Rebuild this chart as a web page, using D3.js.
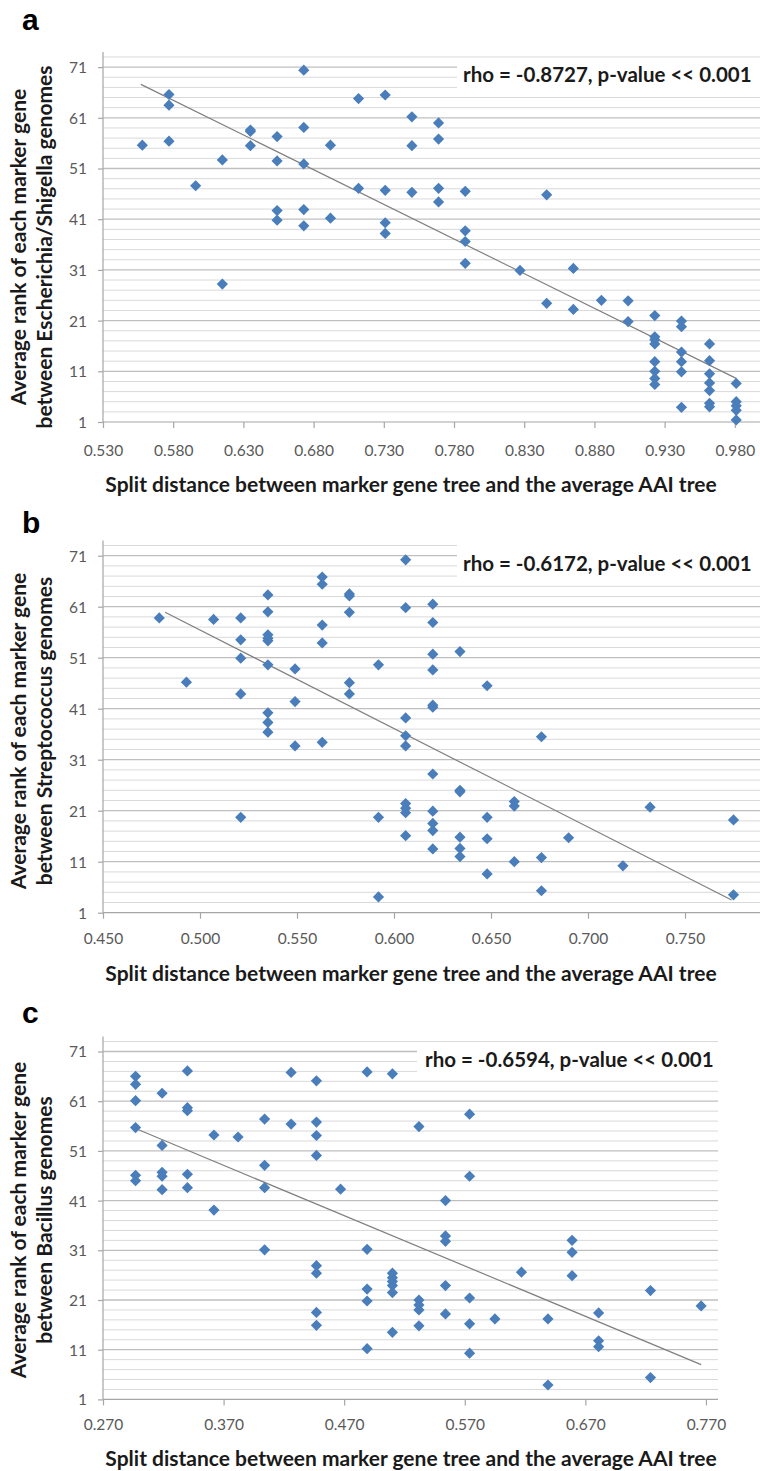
<!DOCTYPE html>
<html><head><meta charset="utf-8">
<script src="https://cdn.jsdelivr.net/npm/d3@7"></script>
<style>body{margin:0;background:#fff}svg{display:block}</style>
</head><body>
<svg id="chart" width="760" height="1471"></svg>
<script>
// ---------- data ----------
const yTickValues = [1, 11, 21, 31, 41, 51, 61, 71];
const aXTicks = [0.53, 0.58, 0.63, 0.68, 0.73, 0.78, 0.83, 0.88, 0.93, 0.98];
const bXTicks = [0.45, 0.50, 0.55, 0.60, 0.65, 0.70, 0.75];
const cXTicks = [0.27, 0.37, 0.47, 0.57, 0.67, 0.77];

const aX = [0.558,
  0.577,0.577,0.577,
  0.596,
  0.615,0.615,
  0.635,0.635,0.635,
  0.654,0.654,0.654,0.654,
  0.673,0.673,0.673,0.673,0.673,
  0.692,0.692,
  0.712,0.712,
  0.731,0.731,0.731,0.731,
  0.750,0.750,0.750,
  0.769,0.769,0.769,0.769,
  0.788,0.788,0.788,0.788,
  0.827,
  0.846,0.846,
  0.865,0.865,
  0.885,
  0.904,0.904,
  0.923,0.923,0.923,0.923,0.923,0.923,0.923,0.923,
  0.942,0.942,0.942,0.942,0.942,0.942,
  0.962,0.962,0.962,0.962,0.962,0.962,0.962,
  0.981,0.981,0.981,0.981,0.981];
const aY = [55.6,
  65.6,63.5,56.4,
  47.6,
  52.7,28.2,
  58.6,58.3,55.5,
  57.3,52.5,42.7,40.8,
  70.4,59.1,51.9,42.9,39.7,
  55.6,41.2,
  64.8,47.1,
  65.5,46.7,40.3,38.2,
  61.2,55.5,46.3,
  60.0,56.8,47.1,44.4,
  46.5,38.7,36.6,32.3,
  30.9,
  45.8,24.4,
  31.3,23.2,
  25.0,
  24.9,20.8,
  22.0,17.8,17.2,16.4,12.9,11.0,9.6,8.4,
  20.9,19.8,14.8,12.9,10.9,3.9,
  16.4,13.1,10.5,8.7,7.2,4.7,4.0,
  8.6,5.0,4.2,3.3,1.4];
const aTrendX = [0.557, 0.981];
const aTrendY = [67.6, 9.6];

const bX = [0.479,
  0.493,
  0.507,
  0.521,0.521,0.521,0.521,0.521,
  0.535,0.535,0.535,0.535,0.535,0.535,0.535,0.535,0.535,
  0.549,0.549,0.549,
  0.563,0.563,0.563,0.563,0.563,
  0.577,0.577,0.577,0.577,0.577,
  0.592,0.592,0.592,
  0.606,0.606,0.606,0.606,0.606,0.606,0.606,0.606,0.606,
  0.620,0.620,0.620,0.620,0.620,0.620,0.620,0.620,0.620,0.620,0.620,
  0.634,0.634,0.634,0.634,0.634,0.634,
  0.648,0.648,0.648,0.648,
  0.662,0.662,0.662,
  0.676,0.676,0.676,
  0.690,
  0.718,
  0.732,
  0.775,0.775];
const bY = [58.8,
  46.2,
  58.5,
  58.8,54.5,50.9,43.9,19.7,
  63.3,60.0,55.5,54.8,54.3,49.6,40.2,38.3,36.4,
  48.8,42.4,33.7,
  66.8,65.4,57.4,53.9,34.4,
  63.5,63.1,59.9,46.1,43.9,
  49.6,19.7,4.1,
  70.2,60.8,39.2,35.7,33.7,22.4,21.5,20.6,16.1,
  61.5,57.9,51.7,48.6,41.7,41.3,28.2,20.9,18.5,17.1,13.5,
  52.2,25.0,24.7,15.8,13.6,12.0,
  45.5,19.7,15.5,8.6,
  22.8,21.9,11.0,
  35.5,11.8,5.3,
  15.7,
  10.2,
  21.7,
  19.2,4.5];
const bTrendX = [0.482, 0.774];
const bTrendY = [59.9, 3.5];

const cX = [0.297,0.297,0.297,0.297,0.297,0.297,
  0.319,0.319,0.319,0.319,0.319,
  0.340,0.340,0.340,0.340,0.340,
  0.362,0.362,
  0.382,
  0.404,0.404,0.404,0.404,
  0.426,0.426,
  0.447,0.447,0.447,0.447,0.447,0.447,0.447,0.447,
  0.467,
  0.489,0.489,0.489,0.489,0.489,
  0.510,0.510,0.510,0.510,0.510,0.510,0.510,
  0.532,0.532,0.532,0.532,0.532,
  0.554,0.554,0.554,0.554,0.554,
  0.574,0.574,0.574,0.574,0.574,
  0.595,
  0.617,
  0.639,0.639,
  0.659,0.659,0.659,
  0.681,0.681,0.681,
  0.724,0.724,
  0.766];
const cY = [66.0,64.4,61.1,55.7,46.1,45.0,
  62.6,52.1,46.7,45.9,43.2,
  67.1,59.7,59.1,46.3,43.6,
  54.2,39.1,
  53.8,
  57.4,48.1,43.6,31.1,
  66.8,56.4,
  65.1,56.8,54.1,50.1,27.9,26.4,18.5,15.9,
  43.3,
  66.9,31.2,23.2,20.8,11.2,
  66.5,26.4,25.5,24.7,23.9,22.5,14.5,
  55.9,21.0,20.0,19.0,15.8,
  41.0,33.9,32.8,23.9,18.2,
  58.4,45.9,21.4,16.2,10.3,
  17.2,
  26.6,
  17.2,3.9,
  33.0,30.6,25.9,
  18.4,12.8,11.6,
  22.9,5.4,
  19.8];
const cTrendX = [0.298, 0.766];
const cTrendY = [55.4, 8.0];

const panelLabels = ["a", "b", "c"];
const yTitles = [
  ["Average rank of each marker gene", "between Escherichia/Shigella genomes"],
  ["Average rank of each marker gene", "between Streptococcus genomes"],
  ["Average rank of each marker gene", "between Bacillus genomes"]
];
const xTitle = "Split distance between marker gene tree and the average AAI tree";
const rhoTexts = ["rho = -0.8727, p-value << 0.001", "rho = -0.6172, p-value << 0.001", "rho = -0.6594, p-value << 0.001"];

// ---------- layout ----------
const layouts = [
  {xDom:[0.53,1.0], xR:[103,762.9], yB:422, yT:51.9, lblY:30, xTickY:456, xTitleY:492, yTitleC:247, rhoX:463, rhoY:82,
   box:[457,59,303,33], xs:aX, ys:aY, tx:aTrendX, ty:aTrendY, ticks:aXTicks},
  {xDom:[0.45,0.80], xR:[103,782], yB:912.7, yT:540.4, lblY:533, xTickY:944, xTitleY:981, yTitleC:731, rhoX:463, rhoY:571,
   box:[457,543,303,40], xs:bX, ys:bY, tx:bTrendX, ty:bTrendY, ticks:bXTicks},
  {xDom:[0.27,0.78], xR:[103,718], yB:1399.4, yT:1036.6, lblY:1023, xTickY:1430, xTitleY:1466, yTitleC:1220, rhoX:425, rhoY:1067,
   box:[417,1044,301,35], xs:cX, ys:cY, tx:cTrendX, ty:cTrendY, ticks:cXTicks}
];

const svg = d3.select("#chart");
const F = "Lato, 'Open Sans', sans-serif";
const blue = "#4a7ebb";

layouts.forEach((L, i) => {
  const g = svg.append("g");
  const x = d3.scaleLinear().domain(L.xDom).range(L.xR);
  const y = d3.scaleLinear().domain([1, 74]).range([L.yB, L.yT]);
  const right = Math.min(L.xR[1], 760);

  // gridlines
  const grid = d3.range(3, 74, 2);
  g.selectAll(".minor").data(grid.filter(v => (v - 1) % 10 !== 0)).join("line")
    .attr("x1", L.xR[0]).attr("x2", right)
    .attr("y1", d => y(d)).attr("y2", d => y(d))
    .attr("stroke", "#d9d9d9").attr("stroke-width", 1);
  g.selectAll(".major").data(yTickValues.slice(1)).join("line")
    .attr("x1", L.xR[0]).attr("x2", right)
    .attr("y1", d => y(d)).attr("y2", d => y(d))
    .attr("stroke", "#bfbfbf").attr("stroke-width", 1.3);

  // white text box
  g.append("rect").attr("x", L.box[0]).attr("y", L.box[1]).attr("width", L.box[2]).attr("height", L.box[3]).attr("fill", "#fff");

  // axes
  const yAxis = d3.axisLeft(y).tickValues(yTickValues).tickSize(5).tickPadding(11).tickFormat(d3.format("d"));
  const ya = g.append("g").attr("transform", `translate(${L.xR[0]},0)`).call(yAxis);
  ya.select(".domain").attr("d", `M0,${L.yT}V${L.yB}`);
  const xAxis = d3.axisBottom(x).tickValues(L.ticks).tickSize(6).tickPadding(0).tickFormat(d3.format(".3f"));
  const xa = g.append("g").attr("transform", `translate(0,${L.yB})`).call(xAxis);
  xa.select(".domain").attr("d", `M${L.xR[0]},0H${right}`);
  [ya, xa].forEach(a => {
    a.selectAll(".domain, line").attr("stroke", "#a6a6a6").attr("stroke-width", 1.2);
    a.selectAll("text").attr("fill", "#595959").style("font-family", F).style("font-size", "15.5px");
  });
  xa.selectAll("text").attr("y", L.xTickY - L.yB).attr("dy", "0");
  ya.selectAll("text").attr("dy", "0.35em");

  // trend line
  g.append("line")
    .attr("x1", x(L.tx[0])).attr("y1", y(L.ty[0]))
    .attr("x2", x(L.tx[1])).attr("y2", y(L.ty[1]))
    .attr("stroke", "#808080").attr("stroke-width", 1.2);

  // points
  const pts = L.xs.map((v, k) => [v, L.ys[k]]);
  const r = 5.6;
  g.selectAll(".pt").data(pts).join("path")
    .attr("d", d => { const cx = x(d[0]), cy = y(d[1]); return `M${cx},${cy - r}L${cx + r},${cy}L${cx},${cy + r}L${cx - r},${cy}Z`; })
    .attr("fill", blue);

  // rho text
  g.append("text").attr("x", L.rhoX).attr("y", L.rhoY).text(rhoTexts[i])
    .style("font-family", F).style("font-size", "20.5px").style("font-weight", "bold").attr("fill", "#1a1a1a");

  // panel label
  g.append("text").attr("x", 22).attr("y", L.lblY).text(panelLabels[i])
    .style("font-family", "'Liberation Sans', Arial, sans-serif").style("font-size", "30px").style("font-weight", "bold");

  // x title
  g.append("text").attr("x", 411).attr("y", L.xTitleY).attr("text-anchor", "middle").text(xTitle)
    .style("font-family", F).style("font-size", "21px").style("font-weight", "bold").attr("fill", "#1a1a1a");

  // y title
  const yt = g.append("text").attr("transform", `translate(0,${L.yTitleC}) rotate(-90)`)
    .attr("text-anchor", "middle").style("font-family", F).style("font-size", "21px").style("font-weight", "bold").attr("fill", "#1a1a1a");
  yt.append("tspan").attr("x", 0).attr("y", 25.5).text(yTitles[i][0]);
  yt.append("tspan").attr("x", 0).attr("y", 52).text(yTitles[i][1]);
});
</script>
</body></html>
